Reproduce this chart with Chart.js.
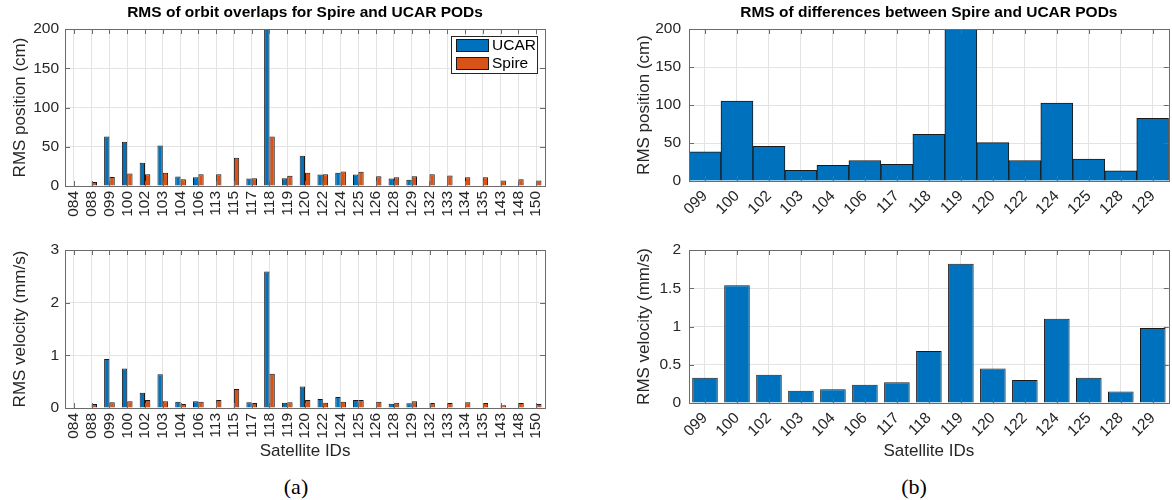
<!DOCTYPE html>
<html>
<head>
<meta charset="utf-8">
<script src="https://cdn.jsdelivr.net/npm/chart.js@4.4.1/dist/chart.umd.min.js"></script>
<style>
  body { margin: 0; background: #fff; width: 1172px; height: 500px; position: relative; overflow: hidden; }
  .panel { position: absolute; }
  .cap { position: absolute; font-family: "Liberation Serif", "Times New Roman", serif; font-size: 22px; color: #000; transform: translate(-50%, -50%); }
</style>
</head>
<body>
<div class="panel" style="left:0;top:0;width:560px;height:232px"><canvas id="overlapPos"></canvas></div>
<div class="panel" style="left:0;top:232px;width:560px;height:230px"><canvas id="overlapVel"></canvas></div>
<div class="panel" style="left:600px;top:0;width:572px;height:232px"><canvas id="diffPos"></canvas></div>
<div class="panel" style="left:600px;top:232px;width:572px;height:230px"><canvas id="diffVel"></canvas></div>
<div class="cap" style="left:296px;top:487px">(a)</div>
<div class="cap" style="left:914px;top:487px">(b)</div>
<script>
// satellite ids + values
const overlapIds = ['084','088','099','100','102','103','104','106','113','115','117','118','119','120',
                    '122','124','125','126','128','129','132','133','134','135','143','148','150'];
// RMS position of orbit overlaps (cm) - UCAR 118 runs off the top of the axes
const ucarPos  = [null, null, 63, 56.5, 29.5, 51.5, 12, 11, null, null, 9.5, 240, 10, 38.5,
                  14.5, 17, 14.5, null, 9.5, 8, null, null, null, null, null, null, null];
const spirePos = [null, 5, 11.5, 16, 15, 17, 8.5, 15, 15, 36, 10, 63, 13, 17,
                  15, 18.5, 18, 12.5, 11, 12.5, 15, 13.5, 11, 11, 7, 8.5, 7];
// RMS velocity of orbit overlaps (mm/s)
const ucarVel  = [null, null, 0.93, 0.75, 0.29, 0.64, 0.12, 0.13, null, null, 0.11, 2.59, 0.10, 0.41,
                  0.17, 0.21, 0.15, null, 0.08, 0.09, null, null, null, null, null, null, null];
const spireVel = [null, 0.075, 0.11, 0.13, 0.15, 0.13, 0.075, 0.12, 0.15, 0.36, 0.095, 0.65, 0.11, 0.15,
                  0.10, 0.12, 0.15, 0.12, 0.10, 0.13, 0.095, 0.095, 0.11, 0.095, 0.05, 0.095, 0.075];

const diffIds = ['099','100','102','103','104','106','117','118','119','120','122','124','125','128','129'];
const diffPos = [38.5, 105, 45.5, 14, 20.5, 27, 22, 61.5, 200, 50.5, 27, 102.5, 29, 13.5, 82.5];
const diffVel = [0.33, 1.54, 0.37, 0.16, 0.18, 0.24, 0.27, 0.68, 1.82, 0.45, 0.30, 1.10, 0.33, 0.15, 0.98];

const posTicks = [0, 200, 50];   // min, max, step
const velTicks = [0, 3, 1];
const diffVelTicks = [0, 2, 0.5];

const BLUE = '#0072BD', ORANGE = '#D95319', EDGE = '#1a1a1a';
const FONT = '"Liberation Sans", Arial, Helvetica, sans-serif';
Chart.defaults.font.family = FONT;
Chart.defaults.color = '#262626';

// matlab style box round the axes, ticks pointing in
const axesBox = {
  id: 'axesBox',
  afterDatasetsDraw(chart) {
    const { ctx, chartArea: a, scales: { x, y } } = chart;
    ctx.save();
    ctx.strokeStyle = '#6b6b6b';
    ctx.lineWidth = 1;
    ctx.beginPath();
    for (let i = 0; i < x.ticks.length; i++) {
      const px = Math.round(x.getPixelForTick(i)) + 0.5;
      ctx.moveTo(px, a.bottom); ctx.lineTo(px, a.bottom - 5);
      ctx.moveTo(px, a.top);    ctx.lineTo(px, a.top + 5);
    }
    for (let i = 0; i < y.ticks.length; i++) {
      const py = Math.round(y.getPixelForTick(i)) + 0.5;
      ctx.moveTo(a.left, py);  ctx.lineTo(a.left + 5, py);
      ctx.moveTo(a.right, py); ctx.lineTo(a.right - 5, py);
    }
    ctx.stroke();
    ctx.strokeRect(Math.round(a.left) + 0.5, Math.round(a.top) + 0.5,
                   Math.round(a.right - a.left), Math.round(a.bottom - a.top));
    ctx.restore();
  }
};

// legend box inside the axes, top right
const boxLegend = {
  id: 'boxLegend',
  afterDraw(chart) {
    const { ctx, chartArea: a } = chart;
    const w = 86, h = 37, left = a.right - w - 8, top = a.top + 7;
    ctx.save();
    ctx.fillStyle = '#fff';
    ctx.fillRect(left, top, w, h);
    ctx.strokeStyle = '#262626';
    ctx.lineWidth = 1;
    ctx.strokeRect(left + 0.5, top + 0.5, w, h);
    ctx.font = '15.5px ' + FONT;
    ctx.textBaseline = 'middle';
    chart.data.datasets.forEach((ds, i) => {
      const rowY = top + 3 + i * 18;
      ctx.fillStyle = ds.backgroundColor;
      ctx.fillRect(left + 5, rowY, 33, 13);
      ctx.strokeStyle = EDGE;
      ctx.strokeRect(left + 5.5, rowY + 0.5, 32, 12);
      ctx.fillStyle = '#000';
      ctx.fillText(ds.label, left + 41, rowY + 7);
    });
    ctx.restore();
  }
};

function makeChart(id, o) {
  const [ymin, ymax, ystep] = o.yTicks;
  return new Chart(document.getElementById(id), {
    type: 'bar',
    data: { labels: o.labels, datasets: o.datasets },
    plugins: o.plugins || [axesBox],
    options: {
      responsive: true,
      maintainAspectRatio: false,
      animation: false,
      events: [],
      layout: { padding: { left: 0, right: o.padRight, top: o.padTop || 0, bottom: 0 } },
      plugins: {
        legend: { display: false },
        tooltip: { enabled: false },
        title: o.title ? {
          display: true, text: o.title, fullSize: false, color: '#000',
          font: { size: 15.5, weight: 'bold' }, padding: { top: 3, bottom: 7.4 }
        } : { display: false }
      },
      datasets: { bar: { categoryPercentage: o.catPct, barPercentage: o.barPct, borderWidth: 1,
                         borderColor: EDGE, clip: 0 } },
      scales: {
        x: {
          offset: true,
          grid: { offset: false, color: '#e3e3e3', drawTicks: false },
          border: { display: false },
          ticks: { autoSkip: false, maxRotation: o.rot, minRotation: o.rot, padding: o.rot === 90 ? 5 : 6,
                   font: { size: 15.5 }, color: '#262626' },
          title: { display: !!o.xTitle, text: o.xTitle, font: { size: 17 }, color: '#262626', padding: 0 },
          afterFit: s => { s.height = o.xHeight; }
        },
        y: {
          min: ymin, max: ymax,
          grid: { color: '#e3e3e3', drawTicks: false },
          border: { display: false },
          ticks: { stepSize: ystep, padding: o.yPad, font: { size: 15.5 }, color: '#262626',
                   callback: v => String(+v.toFixed(2)) },
          title: { display: true, text: o.yTitle, font: { size: 17 }, color: '#262626',
                   padding: { top: o.yTitlePad, bottom: 0 } },
          afterFit: s => { s.width = o.yWidth; }
        }
      }
    }
  });
}

makeChart('overlapPos', {
  labels: overlapIds,
  datasets: [
    { label: 'UCAR',  data: ucarPos,  backgroundColor: BLUE },
    { label: 'Spire', data: spirePos, backgroundColor: ORANGE }
  ],
  plugins: [axesBox, boxLegend],
  title: 'RMS of orbit overlaps for Spire and UCAR PODs',
  yTitle: 'RMS position (cm)', yTicks: posTicks,
  catPct: 0.6, barPct: 1, rot: 90,
  padRight: 11, yWidth: 65, xHeight: 46, yPad: 6, yTitlePad: 10.5
});

makeChart('overlapVel', {
  labels: overlapIds,
  datasets: [
    { label: 'UCAR',  data: ucarVel,  backgroundColor: BLUE },
    { label: 'Spire', data: spireVel, backgroundColor: ORANGE }
  ],
  yTitle: 'RMS velocity (mm/s)', xTitle: 'Satellite IDs', yTicks: velTicks,
  catPct: 0.6, barPct: 1, rot: 90,
  padRight: 11, padTop: 18, yWidth: 65, xHeight: 54, yPad: 6, yTitlePad: 10.5
});

makeChart('diffPos', {
  labels: diffIds,
  datasets: [{ label: 'Spire - UCAR', data: diffPos, backgroundColor: BLUE }],
  title: 'RMS of differences between Spire and UCAR PODs',
  yTitle: 'RMS position (cm)', yTicks: posTicks,
  catPct: 1, barPct: 1, rot: 45,
  padRight: 2, yWidth: 89, xHeight: 51, yPad: 8, yTitlePad: 34
});

makeChart('diffVel', {
  labels: diffIds,
  datasets: [{ label: 'Spire - UCAR', data: diffVel, backgroundColor: BLUE }],
  yTitle: 'RMS velocity (mm/s)', xTitle: 'Satellite IDs', yTicks: diffVelTicks,
  catPct: 1, barPct: 0.8, rot: 45,
  padRight: 2, padTop: 18, yWidth: 89, xHeight: 59, yPad: 8, yTitlePad: 34
});
</script>
</body>
</html>
